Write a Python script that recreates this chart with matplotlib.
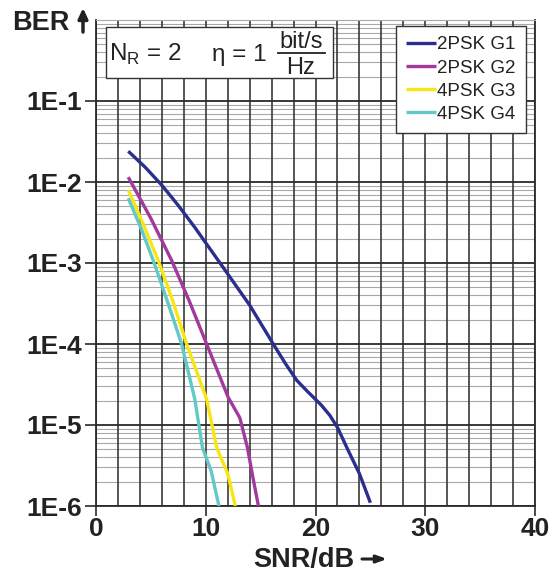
import numpy as np
import matplotlib.pyplot as plt
from matplotlib.patches import Rectangle

plt.rcParams['font.family'] = ['Liberation Sans', 'DejaVu Sans']

# curve data: SNR in dB, log10(BER)
snr_g1 = [2.94, 4.5, 6.0, 7.5, 9.0, 11.3, 14.0, 16.15, 17.3, 18.3, 19.3, 20.5, 21.3, 22.0, 23.0, 24.0, 25.0]
lber_g1 = [-1.62, -1.82, -2.04, -2.29, -2.56, -3.00, -3.52, -4.00, -4.25, -4.45, -4.59, -4.75, -4.88, -5.03, -5.32, -5.60, -5.96]

snr_g2 = [2.94, 5.0, 6.9, 8.5, 10.08, 12.05, 13.1, 13.8, 14.3, 14.8]
lber_g2 = [-1.94, -2.45, -2.97, -3.47, -4.00, -4.66, -4.91, -5.28, -5.65, -6.0]

snr_g3 = [2.94, 4.3, 5.67, 7.0, 8.26, 10.08, 11.0, 12.0, 12.7]
lber_g3 = [-2.10, -2.52, -2.97, -3.47, -4.00, -4.68, -5.28, -5.60, -6.0]

snr_g4 = [2.94, 4.1, 5.22, 6.5, 7.8, 9.0, 9.7, 10.5, 11.2]
lber_g4 = [-2.20, -2.57, -2.97, -3.47, -4.00, -4.68, -5.28, -5.57, -6.0]

labels = ['2PSK G1', '2PSK G2', '4PSK G3', '4PSK G4']
colors = ['#2b2e8c', '#a23a9e', '#f7e614', '#62c9c6']
ytick_labels = ['1E-6', '1E-5', '1E-4', '1E-3', '1E-2', '1E-1']

W, H = 553, 573


def fx(px):
    return px / W


def fy(py):
    return 1 - py / H


fig = plt.figure(figsize=(W / 100, H / 100), dpi=100)
ax = fig.add_axes([fx(96), fy(506), fx(535) - fx(96), fy(20) - fy(506)])

ax.set_xlim(0, 40)
ax.set_ylim(1e-6, 1)
ax.set_yscale('log')

# grid
for x in np.arange(0, 41, 2):
    ax.axvline(x, color='#3a3a3a', lw=1.2, zorder=1)
for d in range(-6, 0):
    for m in range(2, 10):
        ax.axhline(m * 10.0 ** d, color='#a8a8a8', lw=0.8, zorder=0.5)
    ax.axhline(10.0 ** d, color='#2a2a2a', lw=1.3, zorder=1)

series = [(snr_g1, lber_g1), (snr_g2, lber_g2), (snr_g3, lber_g3), (snr_g4, lber_g4)]
for (s, l), lab, c in zip(series, labels, colors):
    ax.plot(s, 10.0 ** np.array(l), color=c, lw=2.4, label=lab, zorder=3,
            solid_capstyle='butt', solid_joinstyle='round')

ax.set_xticks([0, 10, 20, 30, 40])
ax.set_yticks([10.0 ** d for d in range(-6, 0)])
ax.set_yticklabels(ytick_labels)
ax.minorticks_off()
ax.tick_params(axis='x', length=7, width=1.2, color='#2a2a2a', pad=1, labelsize=19)
ax.tick_params(axis='y', length=8, width=1.2, color='#2a2a2a', pad=2, labelsize=19)
for t in ax.get_xticklabels() + ax.get_yticklabels():
    t.set_fontweight('bold')
    t.set_color('#222222')

for side in ['left', 'right', 'bottom']:
    ax.spines[side].set_color('#2a2a2a')
    ax.spines[side].set_linewidth(1.3)
ax.spines['top'].set_color('#a8a8a8')
ax.spines['top'].set_linewidth(0.8)

leg = ax.legend(loc='upper right', bbox_to_anchor=(fx(526), fy(26)),
                bbox_transform=fig.transFigure, fontsize=13.5, frameon=True,
                fancybox=False, edgecolor='#333333', framealpha=1,
                handlelength=1.6, handletextpad=0.05, labelspacing=0.32,
                borderpad=0.55, borderaxespad=0)
leg.get_frame().set_linewidth(1.0)
for t in leg.get_texts():
    t.set_color('#222222')

# parameter box
fig.patches.append(Rectangle((fx(106), fy(78)), fx(333) - fx(106), fy(27) - fy(78),
                             transform=fig.transFigure, facecolor='white',
                             edgecolor='#333333', lw=1.0, zorder=5))
fig.text(fx(109), fy(61), 'N$_\\mathregular{R}$ = 2', fontsize=17.5, color='#222222',
         va='baseline', zorder=6)
fig.text(fx(212), fy(61), 'η = 1', fontsize=17.5, color='#222222', va='baseline', zorder=6)
fig.text(fx(301), fy(48), 'bit/s', fontsize=17, color='#222222', va='baseline',
         ha='center', zorder=6)
fig.text(fx(301), fy(74), 'Hz', fontsize=17, color='#222222', va='baseline',
         ha='center', zorder=6)
fig.add_artist(plt.Line2D([fx(278), fx(325)], [fy(53), fy(53)], color='#222222',
                          lw=1.3, transform=fig.transFigure, zorder=6))

# axis labels with arrows
fig.text(fx(12), fy(30), 'BER', fontsize=19.5, fontweight='bold', color='#222222',
         va='baseline')
ax.annotate('', xy=(fx(83), fy(8)), xytext=(fx(83), fy(32)),
            xycoords='figure fraction', textcoords='figure fraction',
            arrowprops=dict(arrowstyle='-|>,head_width=0.28,head_length=0.6',
                            color='#222222', lw=2.5, shrinkA=0, shrinkB=0))
fig.text(fx(253), fy(567), 'SNR/dB', fontsize=19.5, fontweight='bold', color='#222222',
         va='baseline')
ax.annotate('', xy=(fx(387), fy(559)), xytext=(fx(362), fy(559)),
            xycoords='figure fraction', textcoords='figure fraction',
            arrowprops=dict(arrowstyle='-|>,head_width=0.22,head_length=0.6',
                            color='#222222', lw=2.2, shrinkA=0, shrinkB=0))

fig.savefig('out.png', dpi=100)
